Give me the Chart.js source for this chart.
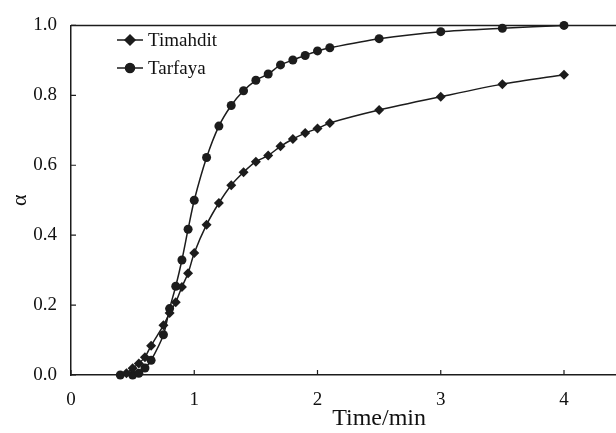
<!DOCTYPE html>
<html>
<head>
<meta charset="utf-8">
<script src="https://cdn.jsdelivr.net/npm/chart.js@4"></script>
<style>
  html, body { margin: 0; padding: 0; background: #fff; overflow: hidden; }
  #chart { display: block; }
</style>
</head>
<body>
<canvas id="chart" width="706" height="433"></canvas>
<script>
// time in minutes, conversion degree alpha
const tarfayaTime = [0.4, 0.5, 0.55, 0.6, 0.65, 0.75, 0.8, 0.85, 0.9, 0.95, 1.0, 1.1, 1.2, 1.3, 1.4, 1.5, 1.6, 1.7, 1.8, 1.9, 2.0, 2.1, 2.5, 3.0, 3.5, 4.0];
const tarfayaAlpha = [0, 0, 0.005, 0.02, 0.042, 0.115, 0.19, 0.254, 0.329, 0.417, 0.5, 0.622, 0.712, 0.771, 0.813, 0.843, 0.861, 0.887, 0.901, 0.914, 0.927, 0.936, 0.962, 0.982, 0.992, 1.0];

const timahditTime = [0.45, 0.5, 0.55, 0.6, 0.65, 0.75, 0.8, 0.85, 0.9, 0.95, 1.0, 1.1, 1.2, 1.3, 1.4, 1.5, 1.6, 1.7, 1.8, 1.9, 2.0, 2.1, 2.5, 3.0, 3.5, 4.0];
const timahditAlpha = [0.005, 0.019, 0.033, 0.051, 0.084, 0.142, 0.177, 0.208, 0.252, 0.291, 0.349, 0.43, 0.492, 0.543, 0.58, 0.61, 0.628, 0.654, 0.675, 0.692, 0.705, 0.721, 0.758, 0.796, 0.832, 0.859];

const seriesNames = ["Timahdit", "Tarfaya"];

const ink = "#1c1c1c";
const serif = "'Liberation Serif', 'DejaVu Serif', serif";

function toPoints(xs, ys) {
  return xs.map((x, i) => ({ x: x, y: ys[i] }));
}

// inward tick marks + top frame line
const frame = {
  id: "frame",
  afterDraw(chart) {
    const { ctx, chartArea, scales } = chart;
    ctx.save();
    ctx.strokeStyle = ink;
    ctx.lineWidth = 1.2;
    ctx.beginPath();
    scales.x.ticks.forEach((t) => {
      const px = scales.x.getPixelForValue(t.value);
      ctx.moveTo(px, chartArea.bottom);
      ctx.lineTo(px, chartArea.bottom - 5);
    });
    scales.y.ticks.forEach((t) => {
      const py = scales.y.getPixelForValue(t.value);
      ctx.moveTo(chartArea.left, py);
      ctx.lineTo(chartArea.left + 5, py);
    });
    ctx.stroke();
    ctx.lineWidth = 1.5;
    ctx.beginPath();
    ctx.moveTo(chartArea.left, chartArea.top);
    ctx.lineTo(chartArea.right, chartArea.top);
    ctx.stroke();
    ctx.restore();
  }
};

// legend drawn inside the plot, top-left
const innerLegend = {
  id: "innerLegend",
  afterDatasetsDraw(chart) {
    const { ctx } = chart;
    const rows = [40, 68];
    ctx.save();
    chart.data.datasets.forEach((ds, i) => {
      const y = rows[i];
      ctx.strokeStyle = ink;
      ctx.lineWidth = 1.5;
      ctx.beginPath();
      ctx.moveTo(117, y);
      ctx.lineTo(143, y);
      ctx.stroke();
      ctx.fillStyle = ink;
      Chart.helpers.drawPoint(ctx, {
        pointStyle: ds.pointStyle,
        radius: ds.pointRadius,
        rotation: 0,
        borderWidth: 1
      }, 130, y);
      ctx.fill();
      ctx.fillStyle = "#111";
      ctx.font = "19px " + serif;
      ctx.textAlign = "left";
      ctx.textBaseline = "middle";
      ctx.fillText(ds.label, 148, y + 1);
    });
    ctx.restore();
  }
};

new Chart(document.getElementById("chart"), {
  type: "scatter",
  data: {
    datasets: [
      {
        label: seriesNames[0],
        data: toPoints(timahditTime, timahditAlpha),
        showLine: true,
        borderColor: ink,
        borderWidth: 1.5,
        backgroundColor: ink,
        pointStyle: "rectRot",
        pointRadius: 5,
        pointBorderWidth: 0,
        tension: 0.25,
        clip: false
      },
      {
        label: seriesNames[1],
        data: toPoints(tarfayaTime, tarfayaAlpha),
        showLine: true,
        borderColor: ink,
        borderWidth: 1.5,
        backgroundColor: ink,
        pointStyle: "circle",
        pointRadius: 4.5,
        pointBorderWidth: 0,
        tension: 0.25,
        clip: false
      }
    ]
  },
  options: {
    responsive: false,
    animation: false,
    layout: { padding: { top: 17, right: 0, left: 0, bottom: 0 } },
    plugins: {
      legend: { display: false },
      tooltip: { enabled: false }
    },
    scales: {
      x: {
        type: "linear",
        min: 0,
        max: 5,
        afterFit(scale) { scale.height = 58; },
        grid: { display: false, drawTicks: false },
        border: { display: true, color: ink, width: 1.5 },
        ticks: {
          stepSize: 1,
          padding: 14,
          color: "#111",
          font: { family: serif, size: 19 },
          callback: (v) => String(v)
        },
        title: {
          display: true,
          text: "Time/min",
          color: "#111",
          font: { family: serif, size: 24 },
          padding: { top: 0, bottom: 0 }
        }
      },
      y: {
        min: 0,
        max: 1,
        afterFit(scale) { scale.width = 71; },
        grid: { display: false, drawTicks: false },
        border: { display: true, color: ink, width: 1.5 },
        ticks: {
          stepSize: 0.2,
          padding: 14,
          color: "#111",
          font: { family: serif, size: 19 },
          callback: (v) => v.toFixed(1)
        },
        title: {
          display: true,
          text: "α",
          color: "#111",
          font: { family: serif, size: 22 },
          padding: { top: 7, bottom: 0 }
        }
      }
    }
  },
  plugins: [frame, innerLegend]
});
</script>
</body>
</html>
